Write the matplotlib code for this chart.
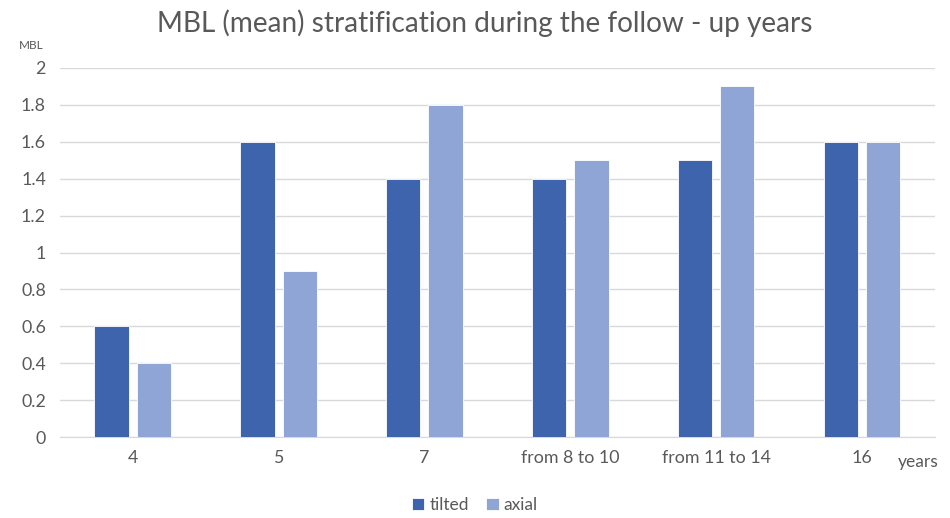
import matplotlib
matplotlib.use("Agg")
import matplotlib.pyplot as plt
import numpy as np

plt.rcParams["font.family"] = ["Lato", "DejaVu Sans"]

labels = ["4", "5", "7", "from 8 to 10", "from 11 to 14", "16"]
tilted = [0.6, 1.6, 1.4, 1.4, 1.5, 1.6]
axial = [0.4, 0.9, 1.8, 1.5, 1.9, 1.6]

dark = "#3D64AD"
light = "#8FA5D5"
grid = "#D9D9D9"
txt = "#595959"

fig = plt.figure(figsize=(9.5, 5.18), dpi=100)
ax = fig.add_axes([0.063, 0.156, 0.921, 0.713])

x = np.arange(len(labels))
w = 0.235
ax.bar(x - 0.145, tilted, w, color=dark, edgecolor="white", linewidth=0.6, label="tilted", zorder=3)
ax.bar(x + 0.145, axial, w, color=light, edgecolor="white", linewidth=0.6, label="axial", zorder=3)

ax.set_xlim(-0.5, len(labels) - 0.5)
ax.set_ylim(0, 2)
ax.set_yticks(np.arange(0, 2.01, 0.2))
ax.set_yticklabels(["0", "0.2", "0.4", "0.6", "0.8", "1", "1.2", "1.4", "1.6", "1.8", "2"])
ax.set_xticks(x)
ax.set_xticklabels(labels)
ax.grid(axis="y", color=grid, linewidth=1, zorder=0)
for s in ["top", "right", "left"]:
    ax.spines[s].set_visible(False)
ax.spines["bottom"].set_color(grid)
ax.tick_params(axis="both", length=0, colors=txt, labelsize=12.8)
ax.tick_params(axis="y", pad=10)
ax.tick_params(axis="x", pad=9)

fig.text(0.51, 0.956, "MBL (mean) stratification during the follow - up years",
         ha="center", va="center", fontsize=20.2, color=txt)
fig.text(0.033, 0.913, "MBL", ha="center", va="center", fontsize=8.5, color=txt)
fig.text(0.966, 0.108, "years", ha="center", va="center", fontsize=12.5, color=txt)

fig.legend(loc="center", bbox_to_anchor=(0.5, 0.025), ncol=2, frameon=False,
           fontsize=12.5, handlelength=0.7, handleheight=0.7, handletextpad=0.3,
           columnspacing=1.0, labelcolor=txt)

fig.savefig("out.png", dpi=100)
